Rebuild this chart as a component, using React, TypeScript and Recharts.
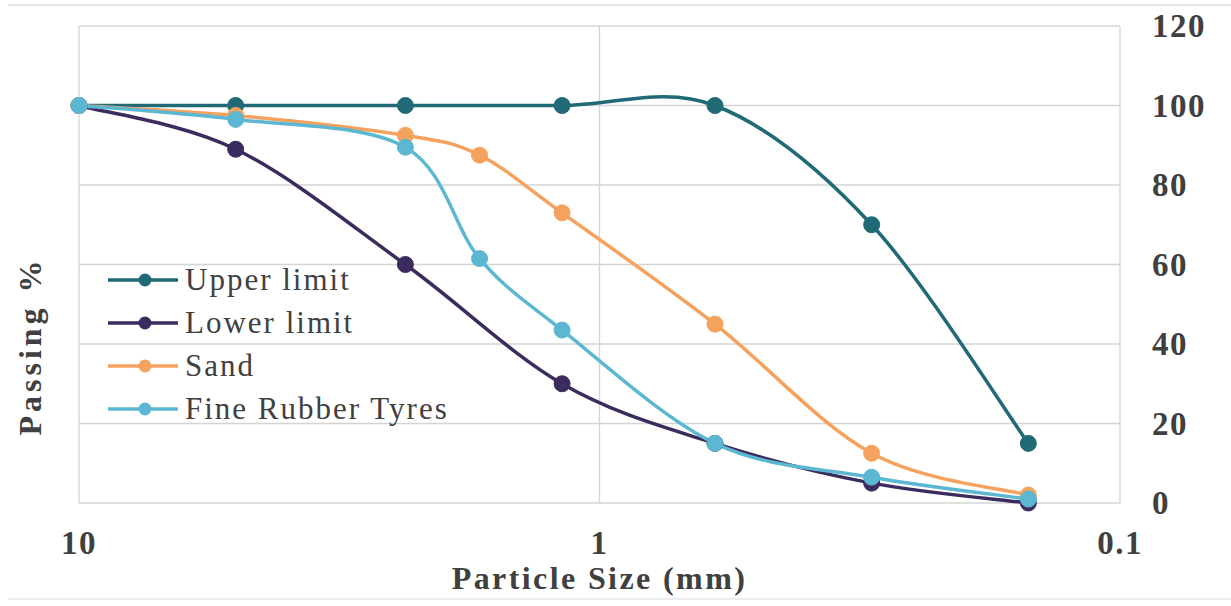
import React from 'react';
import { LineChart, Line, XAxis, YAxis, CartesianGrid } from 'recharts';

// sieve sizes (mm) and % passing
const upperSizes = [10, 5, 2.36, 1.18, 0.6, 0.3, 0.15];
const upperPassing = [100, 100, 100, 100, 100, 70, 15];

const lowerSizes = [10, 5, 2.36, 1.18, 0.6, 0.3, 0.15];
const lowerPassing = [100, 89, 60, 30, 15, 5, 0];

const sandSizes = [10, 5, 2.36, 1.7, 1.18, 0.6, 0.3, 0.15];
const sandPassing = [100, 97.5, 92.5, 87.5, 73, 45, 12.5, 2];

const tyreSizes = [10, 5, 2.36, 1.7, 1.18, 0.6, 0.3, 0.15];
const tyrePassing = [100, 96.5, 89.5, 61.5, 43.5, 15, 6.5, 1];

const xTicks = [10, 1, 0.1];
const yTicks = [0, 20, 40, 60, 80, 100, 120];

const FONT = '"Liberation Serif", "Times New Roman", serif';
const TEXT = '#404040';

const toPoints = (xs: number[], ys: number[]) => xs.map((x, i) => ({ x, y: ys[i] }));

const series = [
  { name: 'Upper limit', color: '#1f6a76', data: toPoints(upperSizes, upperPassing) },
  { name: 'Lower limit', color: '#3b2b5e', data: toPoints(lowerSizes, lowerPassing) },
  { name: 'Sand', color: '#f5a25f', data: toPoints(sandSizes, sandPassing) },
  { name: 'Fine Rubber Tyres', color: '#5cb8d2', data: toPoints(tyreSizes, tyrePassing) },
];

// Excel-style smoothed line (Catmull-Rom as cubic bezier, tension 1/6)
const excelCurve = (context: any) => {
  let pts: [number, number][] = [];
  return {
    areaStart() {},
    areaEnd() {},
    lineStart() {
      pts = [];
    },
    lineEnd() {
      if (!pts.length) return;
      context.moveTo(pts[0][0], pts[0][1]);
      for (let i = 0; i < pts.length - 1; i++) {
        const p0 = pts[Math.max(i - 1, 0)];
        const p1 = pts[i];
        const p2 = pts[i + 1];
        const p3 = pts[Math.min(i + 2, pts.length - 1)];
        context.bezierCurveTo(
          p1[0] + (p2[0] - p0[0]) / 6,
          p1[1] + (p2[1] - p0[1]) / 6,
          p2[0] - (p3[0] - p1[0]) / 6,
          p2[1] - (p3[1] - p1[1]) / 6,
          p2[0],
          p2[1]
        );
      }
    },
    point(x: number, y: number) {
      pts.push([x, y]);
    },
  };
};

const XTick = (props: any) => {
  const { x, y, payload } = props;
  return (
    <text x={x} y={y + 43} textAnchor="middle" fontFamily={FONT} fontSize={33} fontWeight="bold" letterSpacing={1.5} fill={TEXT}>
      {payload.value}
    </text>
  );
};

const YTick = (props: any) => {
  const { x, y, payload } = props;
  return (
    <text x={x + 24} y={y + 11} textAnchor="start" fontFamily={FONT} fontSize={33} fontWeight="bold" letterSpacing={1.5} fill={TEXT}>
      {payload.value}
    </text>
  );
};

export default function App() {
  return (
    <div style={{ position: 'absolute', left: 0, top: 0, width: 1231, height: 606, background: '#fff' }}>
      <div
        style={{
          position: 'absolute',
          left: 8,
          top: 4,
          width: 1223,
          height: 592,
          borderTop: '2px solid #e4e4e4',
          borderBottom: '2px solid #ececec',
        }}
      />
      <LineChart width={1231} height={606} margin={{ top: 26, right: 0, left: 79, bottom: 0 }}>
        <CartesianGrid stroke="#d4d4d4" strokeWidth={1.3} />
        <XAxis
          dataKey="x"
          type="number"
          scale="log"
          domain={[0.1, 10]}
          ticks={xTicks}
          reversed
          allowDuplicatedCategory={false}
          axisLine={false}
          tickLine={false}
          height={103}
          tick={<XTick />}
          label={{
            value: 'Particle Size (mm)',
            position: 'insideBottom',
            offset: 17,
            style: { fontFamily: FONT, fontSize: 32, fontWeight: 'bold', letterSpacing: 2.4, fill: TEXT },
          }}
        />
        <YAxis
          type="number"
          orientation="right"
          domain={[0, 120]}
          ticks={yTicks}
          axisLine={false}
          tickLine={false}
          width={111}
          tick={<YTick />}
        />
        {series.map((s) => (
          <Line
            key={s.name}
            data={s.data}
            dataKey="y"
            name={s.name}
            type={excelCurve as any}
            stroke={s.color}
            strokeWidth={3.5}
            dot={{ r: 8, fill: s.color, stroke: s.color, strokeWidth: 1 }}
            activeDot={false}
            isAnimationActive={false}
          />
        ))}
      </LineChart>
      <div style={{ position: 'absolute', left: 108, top: 258, fontFamily: FONT, fontSize: 31, letterSpacing: 2, color: TEXT }}>
        {series.map((s) => (
          <div key={s.name} style={{ display: 'flex', alignItems: 'center', height: 43 }}>
            <svg width={72} height={20} style={{ marginRight: 5 }}>
              <line x1={0} y1={10} x2={70} y2={10} stroke={s.color} strokeWidth={3.5} />
              <circle cx={37} cy={10} r={6.5} fill={s.color} />
            </svg>
            <span style={{ lineHeight: '43px' }}>{s.name}</span>
          </div>
        ))}
      </div>
      <div
        style={{
          position: 'absolute',
          left: 30,
          top: 346,
          transform: 'translate(-50%, -50%) rotate(-90deg)',
          fontFamily: FONT,
          fontSize: 32,
          fontWeight: 'bold',
          letterSpacing: 4,
          color: TEXT,
          whiteSpace: 'nowrap',
        }}
      >
        Passing %
      </div>
    </div>
  );
}
